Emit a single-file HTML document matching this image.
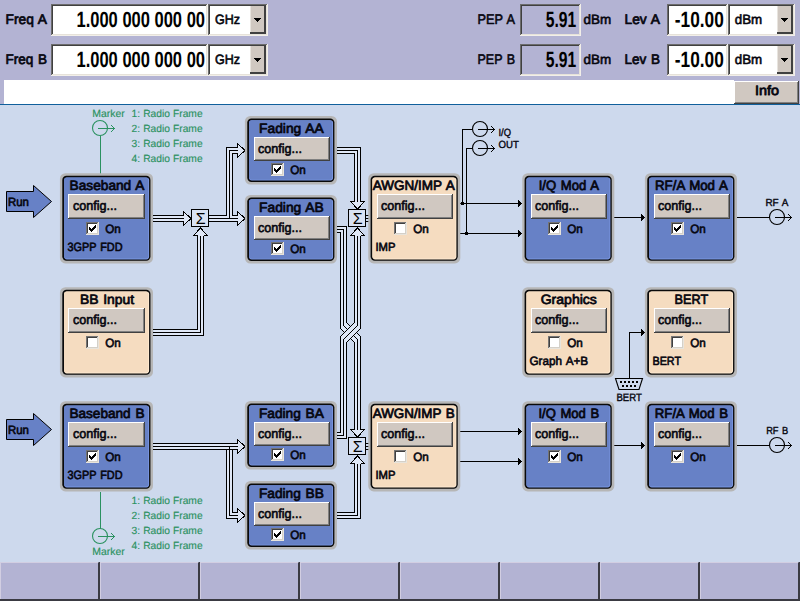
<!DOCTYPE html>
<html lang="en"><head><meta charset="utf-8"><title>Signal Generator Block Diagram</title>
<style>html,body{margin:0;padding:0;background:#b3b3d3;overflow:hidden}svg{display:block}text{font-family:"Liberation Sans", sans-serif;white-space:pre;word-spacing:1px}.d{word-spacing:0}.g{word-spacing:0.2px}</style></head><body>
<svg width="800" height="601" viewBox="0 0 800 601" shape-rendering="crispEdges" text-rendering="geometricPrecision">
<rect x="0" y="0" width="800" height="601" fill="#b3b3d3" />
<rect x="0" y="105" width="800" height="457" fill="#cdd9ed" />
<rect x="0" y="104" width="800" height="1" fill="#10609c" />
<rect x="4" y="80" width="730" height="24" fill="#ffffff" />
<text x="5.5" y="23.7" font-size="14" stroke="#06060f" stroke-width="0.72" stroke-linejoin="round" fill="#06060f" textLength="41.5" lengthAdjust="spacingAndGlyphs" >Freq A</text>
<rect x="51" y="4" width="157" height="32" fill="#f2efe9" />
<rect x="51" y="4" width="156" height="31" fill="#6c6c6c" />
<rect x="52" y="5" width="155" height="30" fill="#e6e2da" />
<rect x="52" y="5" width="154" height="29" fill="#404040" />
<rect x="53" y="6" width="153" height="28" fill="#fff" />
<text x="205" y="26.7" font-size="22" font-weight="bold" fill="#000" text-anchor="end" textLength="128.5" lengthAdjust="spacingAndGlyphs" class="d">1.000 000 000 00</text>
<rect x="208" y="4" width="60" height="32" fill="#f2efe9" />
<rect x="208" y="4" width="59" height="31" fill="#6c6c6c" />
<rect x="209" y="5" width="58" height="30" fill="#e6e2da" />
<rect x="209" y="5" width="57" height="29" fill="#404040" />
<rect x="210" y="6" width="56" height="28" fill="#fff" />
<rect x="250" y="6" width="16" height="28" fill="#404040" />
<rect x="250" y="6" width="14" height="26" fill="#e8e4de" />
<rect x="251" y="6" width="13" height="26" fill="#d0c8c1" />
<rect x="254" y="18" width="7" height="1" fill="#000" />
<rect x="255" y="19" width="5" height="1" fill="#000" />
<rect x="256" y="20" width="3" height="1" fill="#000" />
<rect x="257" y="21" width="1" height="1" fill="#000" />
<text x="215" y="23.6" font-size="13.5" stroke="#06060f" stroke-width="0.6" stroke-linejoin="round" fill="#06060f" textLength="25" lengthAdjust="spacingAndGlyphs" >GHz</text>
<text x="477.5" y="23.7" font-size="14" stroke="#06060f" stroke-width="0.6" stroke-linejoin="round" fill="#06060f" textLength="37.5" lengthAdjust="spacingAndGlyphs" >PEP A</text>
<rect x="520" y="4" width="61" height="32" fill="#f2efe9" />
<rect x="520" y="4" width="60" height="31" fill="#6c6c6c" />
<rect x="521" y="5" width="59" height="30" fill="#e6e2da" />
<rect x="521" y="5" width="58" height="29" fill="#404040" />
<rect x="522" y="6" width="57" height="28" fill="#b3b3d3" />
<text x="576.3" y="26.7" font-size="22" font-weight="bold" fill="#000" text-anchor="end" textLength="30.5" lengthAdjust="spacingAndGlyphs" >5.91</text>
<text x="583.6" y="23.6" font-size="13.5" stroke="#06060f" stroke-width="0.6" stroke-linejoin="round" fill="#06060f" textLength="27.6" lengthAdjust="spacingAndGlyphs" >dBm</text>
<text x="624.5" y="23.7" font-size="14" stroke="#06060f" stroke-width="0.72" stroke-linejoin="round" fill="#06060f" textLength="35.5" lengthAdjust="spacingAndGlyphs" >Lev A</text>
<rect x="667" y="4" width="61" height="32" fill="#f2efe9" />
<rect x="667" y="4" width="60" height="31" fill="#6c6c6c" />
<rect x="668" y="5" width="59" height="30" fill="#e6e2da" />
<rect x="668" y="5" width="58" height="29" fill="#404040" />
<rect x="669" y="6" width="57" height="28" fill="#fff" />
<text x="723.8" y="26.7" font-size="22" font-weight="bold" fill="#000" text-anchor="end" textLength="49" lengthAdjust="spacingAndGlyphs" >-10.00</text>
<rect x="728" y="4" width="67" height="32" fill="#f2efe9" />
<rect x="728" y="4" width="66" height="31" fill="#6c6c6c" />
<rect x="729" y="5" width="65" height="30" fill="#e6e2da" />
<rect x="729" y="5" width="64" height="29" fill="#404040" />
<rect x="730" y="6" width="63" height="28" fill="#fff" />
<rect x="777" y="6" width="16" height="28" fill="#404040" />
<rect x="777" y="6" width="14" height="26" fill="#e8e4de" />
<rect x="778" y="6" width="13" height="26" fill="#d0c8c1" />
<rect x="781" y="18" width="7" height="1" fill="#000" />
<rect x="782" y="19" width="5" height="1" fill="#000" />
<rect x="783" y="20" width="3" height="1" fill="#000" />
<rect x="784" y="21" width="1" height="1" fill="#000" />
<text x="734.8" y="23.6" font-size="13.5" stroke="#06060f" stroke-width="0.6" stroke-linejoin="round" fill="#06060f" textLength="27.4" lengthAdjust="spacingAndGlyphs" >dBm</text>
<text x="5.5" y="63.7" font-size="14" stroke="#06060f" stroke-width="0.72" stroke-linejoin="round" fill="#06060f" textLength="41.5" lengthAdjust="spacingAndGlyphs" >Freq B</text>
<rect x="51" y="44" width="157" height="32" fill="#f2efe9" />
<rect x="51" y="44" width="156" height="31" fill="#6c6c6c" />
<rect x="52" y="45" width="155" height="30" fill="#e6e2da" />
<rect x="52" y="45" width="154" height="29" fill="#404040" />
<rect x="53" y="46" width="153" height="28" fill="#fff" />
<text x="205" y="66.7" font-size="22" font-weight="bold" fill="#000" text-anchor="end" textLength="128.5" lengthAdjust="spacingAndGlyphs" class="d">1.000 000 000 00</text>
<rect x="208" y="44" width="60" height="32" fill="#f2efe9" />
<rect x="208" y="44" width="59" height="31" fill="#6c6c6c" />
<rect x="209" y="45" width="58" height="30" fill="#e6e2da" />
<rect x="209" y="45" width="57" height="29" fill="#404040" />
<rect x="210" y="46" width="56" height="28" fill="#fff" />
<rect x="250" y="46" width="16" height="28" fill="#404040" />
<rect x="250" y="46" width="14" height="26" fill="#e8e4de" />
<rect x="251" y="46" width="13" height="26" fill="#d0c8c1" />
<rect x="254" y="58" width="7" height="1" fill="#000" />
<rect x="255" y="59" width="5" height="1" fill="#000" />
<rect x="256" y="60" width="3" height="1" fill="#000" />
<rect x="257" y="61" width="1" height="1" fill="#000" />
<text x="215" y="63.6" font-size="13.5" stroke="#06060f" stroke-width="0.6" stroke-linejoin="round" fill="#06060f" textLength="25" lengthAdjust="spacingAndGlyphs" >GHz</text>
<text x="477.5" y="63.7" font-size="14" stroke="#06060f" stroke-width="0.6" stroke-linejoin="round" fill="#06060f" textLength="37.5" lengthAdjust="spacingAndGlyphs" >PEP B</text>
<rect x="520" y="44" width="61" height="32" fill="#f2efe9" />
<rect x="520" y="44" width="60" height="31" fill="#6c6c6c" />
<rect x="521" y="45" width="59" height="30" fill="#e6e2da" />
<rect x="521" y="45" width="58" height="29" fill="#404040" />
<rect x="522" y="46" width="57" height="28" fill="#b3b3d3" />
<text x="576.3" y="66.7" font-size="22" font-weight="bold" fill="#000" text-anchor="end" textLength="30.5" lengthAdjust="spacingAndGlyphs" >5.91</text>
<text x="583.6" y="63.6" font-size="13.5" stroke="#06060f" stroke-width="0.6" stroke-linejoin="round" fill="#06060f" textLength="27.6" lengthAdjust="spacingAndGlyphs" >dBm</text>
<text x="624.5" y="63.7" font-size="14" stroke="#06060f" stroke-width="0.72" stroke-linejoin="round" fill="#06060f" textLength="35.5" lengthAdjust="spacingAndGlyphs" >Lev B</text>
<rect x="667" y="44" width="61" height="32" fill="#f2efe9" />
<rect x="667" y="44" width="60" height="31" fill="#6c6c6c" />
<rect x="668" y="45" width="59" height="30" fill="#e6e2da" />
<rect x="668" y="45" width="58" height="29" fill="#404040" />
<rect x="669" y="46" width="57" height="28" fill="#fff" />
<text x="723.8" y="66.7" font-size="22" font-weight="bold" fill="#000" text-anchor="end" textLength="49" lengthAdjust="spacingAndGlyphs" >-10.00</text>
<rect x="728" y="44" width="67" height="32" fill="#f2efe9" />
<rect x="728" y="44" width="66" height="31" fill="#6c6c6c" />
<rect x="729" y="45" width="65" height="30" fill="#e6e2da" />
<rect x="729" y="45" width="64" height="29" fill="#404040" />
<rect x="730" y="46" width="63" height="28" fill="#fff" />
<rect x="777" y="46" width="16" height="28" fill="#404040" />
<rect x="777" y="46" width="14" height="26" fill="#e8e4de" />
<rect x="778" y="46" width="13" height="26" fill="#d0c8c1" />
<rect x="781" y="58" width="7" height="1" fill="#000" />
<rect x="782" y="59" width="5" height="1" fill="#000" />
<rect x="783" y="60" width="3" height="1" fill="#000" />
<rect x="784" y="61" width="1" height="1" fill="#000" />
<text x="734.8" y="63.6" font-size="13.5" stroke="#06060f" stroke-width="0.6" stroke-linejoin="round" fill="#06060f" textLength="27.4" lengthAdjust="spacingAndGlyphs" >dBm</text>
<rect x="734" y="81" width="65" height="23" fill="#404040" />
<rect x="734" y="81" width="64" height="22" fill="#ffffff" />
<rect x="735" y="82" width="63" height="21" fill="#808080" />
<rect x="735" y="82" width="62" height="20" fill="#d0c8c1" />
<text x="766.9" y="95.2" font-size="13.5" stroke="#06060f" stroke-width="0.8" stroke-linejoin="round" fill="#06060f" text-anchor="middle" textLength="24" lengthAdjust="spacingAndGlyphs" >Info</text>
<rect x="0" y="562" width="100" height="39" fill="#3a3a42" />
<rect x="0" y="562" width="98" height="37" fill="#d2cee2" />
<rect x="1" y="563" width="97" height="36" fill="#b3b3d3" />
<rect x="98" y="562" width="1" height="1" fill="#77778a" />
<rect x="100" y="562" width="100" height="39" fill="#3a3a42" />
<rect x="100" y="562" width="98" height="37" fill="#d2cee2" />
<rect x="101" y="563" width="97" height="36" fill="#b3b3d3" />
<rect x="198" y="562" width="1" height="1" fill="#77778a" />
<rect x="200" y="562" width="100" height="39" fill="#3a3a42" />
<rect x="200" y="562" width="98" height="37" fill="#d2cee2" />
<rect x="201" y="563" width="97" height="36" fill="#b3b3d3" />
<rect x="298" y="562" width="1" height="1" fill="#77778a" />
<rect x="300" y="562" width="100" height="39" fill="#3a3a42" />
<rect x="300" y="562" width="98" height="37" fill="#d2cee2" />
<rect x="301" y="563" width="97" height="36" fill="#b3b3d3" />
<rect x="398" y="562" width="1" height="1" fill="#77778a" />
<rect x="400" y="562" width="100" height="39" fill="#3a3a42" />
<rect x="400" y="562" width="98" height="37" fill="#d2cee2" />
<rect x="401" y="563" width="97" height="36" fill="#b3b3d3" />
<rect x="498" y="562" width="1" height="1" fill="#77778a" />
<rect x="500" y="562" width="100" height="39" fill="#3a3a42" />
<rect x="500" y="562" width="98" height="37" fill="#d2cee2" />
<rect x="501" y="563" width="97" height="36" fill="#b3b3d3" />
<rect x="598" y="562" width="1" height="1" fill="#77778a" />
<rect x="600" y="562" width="100" height="39" fill="#3a3a42" />
<rect x="600" y="562" width="98" height="37" fill="#d2cee2" />
<rect x="601" y="563" width="97" height="36" fill="#b3b3d3" />
<rect x="698" y="562" width="1" height="1" fill="#77778a" />
<rect x="700" y="562" width="100" height="39" fill="#3a3a42" />
<rect x="700" y="562" width="98" height="37" fill="#d2cee2" />
<rect x="701" y="563" width="97" height="36" fill="#b3b3d3" />
<rect x="798" y="562" width="1" height="1" fill="#77778a" />
<text x="131.6" y="116.9" font-size="10.4" stroke="#2a9160" stroke-width="0.15" stroke-linejoin="round" fill="#2a9160" textLength="71" lengthAdjust="spacingAndGlyphs" class="g">1: Radio Frame</text>
<text x="131.6" y="504.2" font-size="10.4" stroke="#2a9160" stroke-width="0.15" stroke-linejoin="round" fill="#2a9160" textLength="71" lengthAdjust="spacingAndGlyphs" class="g">1: Radio Frame</text>
<text x="131.6" y="131.9" font-size="10.4" stroke="#2a9160" stroke-width="0.15" stroke-linejoin="round" fill="#2a9160" textLength="71" lengthAdjust="spacingAndGlyphs" class="g">2: Radio Frame</text>
<text x="131.6" y="519.15" font-size="10.4" stroke="#2a9160" stroke-width="0.15" stroke-linejoin="round" fill="#2a9160" textLength="71" lengthAdjust="spacingAndGlyphs" class="g">2: Radio Frame</text>
<text x="131.6" y="146.9" font-size="10.4" stroke="#2a9160" stroke-width="0.15" stroke-linejoin="round" fill="#2a9160" textLength="71" lengthAdjust="spacingAndGlyphs" class="g">3: Radio Frame</text>
<text x="131.6" y="534.1" font-size="10.4" stroke="#2a9160" stroke-width="0.15" stroke-linejoin="round" fill="#2a9160" textLength="71" lengthAdjust="spacingAndGlyphs" class="g">3: Radio Frame</text>
<text x="131.6" y="161.9" font-size="10.4" stroke="#2a9160" stroke-width="0.15" stroke-linejoin="round" fill="#2a9160" textLength="71" lengthAdjust="spacingAndGlyphs" class="g">4: Radio Frame</text>
<text x="131.6" y="549.05" font-size="10.4" stroke="#2a9160" stroke-width="0.15" stroke-linejoin="round" fill="#2a9160" textLength="71" lengthAdjust="spacingAndGlyphs" class="g">4: Radio Frame</text>
<text x="92.3" y="116.9" font-size="10.4" stroke="#2a9160" stroke-width="0.15" stroke-linejoin="round" fill="#2a9160" textLength="32.5" lengthAdjust="spacingAndGlyphs" >Marker</text>
<text x="92.3" y="555" font-size="10.4" stroke="#2a9160" stroke-width="0.15" stroke-linejoin="round" fill="#2a9160" textLength="32.5" lengthAdjust="spacingAndGlyphs" >Marker</text>
<circle cx="100" cy="128" r="7.5" fill="none" stroke="#2a9160" stroke-width="1.1" shape-rendering="auto"/>
<rect x="98" y="128" width="17" height="1" fill="#2a9160" />
<rect x="113" y="127" width="1" height="1" fill="#2a9160" />
<rect x="113" y="129" width="1" height="1" fill="#2a9160" />
<rect x="112" y="126" width="1" height="1" fill="#2a9160" />
<rect x="112" y="130" width="1" height="1" fill="#2a9160" />
<rect x="111" y="125" width="1" height="1" fill="#2a9160" />
<rect x="111" y="131" width="1" height="1" fill="#2a9160" />
<rect x="100" y="136" width="1" height="38" fill="#2a9160" />
<circle cx="100" cy="536" r="7.5" fill="none" stroke="#2a9160" stroke-width="1.1" shape-rendering="auto"/>
<rect x="98" y="536" width="17" height="1" fill="#2a9160" />
<rect x="113" y="535" width="1" height="1" fill="#2a9160" />
<rect x="113" y="537" width="1" height="1" fill="#2a9160" />
<rect x="112" y="534" width="1" height="1" fill="#2a9160" />
<rect x="112" y="538" width="1" height="1" fill="#2a9160" />
<rect x="111" y="533" width="1" height="1" fill="#2a9160" />
<rect x="111" y="539" width="1" height="1" fill="#2a9160" />
<rect x="100" y="492" width="1" height="37" fill="#2a9160" />
<polygon points="6.5,191.5 33.5,191.5 33.5,185.5 51.5,201.5 33.5,217.5 33.5,211.5 6.5,211.5" fill="#6781c6" stroke="#000" stroke-width="1" shape-rendering="auto"/>
<text x="7.9" y="205.7" font-size="12" stroke="#06060f" stroke-width="0.62" stroke-linejoin="round" fill="#06060f" textLength="21" lengthAdjust="spacingAndGlyphs" >Run</text>
<polygon points="6.5,419.5 33.5,419.5 33.5,413.5 51.5,429.5 33.5,445.5 33.5,439.5 6.5,439.5" fill="#6781c6" stroke="#000" stroke-width="1" shape-rendering="auto"/>
<text x="7.9" y="433.7" font-size="12" stroke="#06060f" stroke-width="0.62" stroke-linejoin="round" fill="#06060f" textLength="21" lengthAdjust="spacingAndGlyphs" >Run</text>
<polygon points="153.5,221.5 183.5,221.5 183.5,215.5 153.5,215.5" fill="#dfe7f6" stroke="none"/>
<polyline points="153.5,221.5 183.5,221.5" fill="none" stroke="#000" stroke-width="1" stroke-linecap="square"/>
<polyline points="153.5,218.5 183.5,218.5" fill="none" stroke="#000" stroke-width="1" stroke-linecap="square"/>
<polyline points="153.5,215.5 183.5,215.5" fill="none" stroke="#000" stroke-width="1" stroke-linecap="square"/>
<polygon points="183.5,211.5 191.0,218.5 183.5,225.5" fill="#dfe7f6" stroke="none"/>
<polyline points="183.5,215.5 183.5,211.5 191.0,218.5 183.5,225.5 183.5,221.5" fill="none" stroke="#000" stroke-width="1"/>
<polygon points="153.5,335.5 203.5,335.5 203.5,235.5 197.5,235.5 197.5,329.5 153.5,329.5" fill="#dfe7f6" stroke="none"/>
<polyline points="153.5,335.5 203.5,335.5 203.5,235.5" fill="none" stroke="#000" stroke-width="1" stroke-linecap="square"/>
<polyline points="153.5,332.5 200.5,332.5 200.5,235.5" fill="none" stroke="#000" stroke-width="1" stroke-linecap="square"/>
<polyline points="153.5,329.5 197.5,329.5 197.5,235.5" fill="none" stroke="#000" stroke-width="1" stroke-linecap="square"/>
<polygon points="193.5,235.5 200.5,228.0 207.5,235.5" fill="#dfe7f6" stroke="none"/>
<polyline points="197.5,235.5 193.5,235.5 200.5,228.0 207.5,235.5 203.5,235.5" fill="none" stroke="#000" stroke-width="1"/>
<polygon points="209.5,221.5 237.5,221.5 237.5,215.5 209.5,215.5" fill="#dfe7f6" stroke="none"/>
<polyline points="209.5,221.5 237.5,221.5" fill="none" stroke="#000" stroke-width="1" stroke-linecap="square"/>
<polyline points="209.5,218.5 237.5,218.5" fill="none" stroke="#000" stroke-width="1" stroke-linecap="square"/>
<polyline points="209.5,215.5 237.5,215.5" fill="none" stroke="#000" stroke-width="1" stroke-linecap="square"/>
<polygon points="237.5,211.5 245.0,218.5 237.5,225.5" fill="#dfe7f6" stroke="none"/>
<polyline points="237.5,215.5 237.5,211.5 245.0,218.5 237.5,225.5 237.5,221.5" fill="none" stroke="#000" stroke-width="1"/>
<polygon points="232.5,215.5 232.5,153.5 237.5,153.5 237.5,147.5 226.5,147.5 226.5,215.5" fill="#dfe7f6" stroke="none"/>
<polyline points="232.5,215.5 232.5,153.5 237.5,153.5" fill="none" stroke="#000" stroke-width="1" stroke-linecap="square"/>
<polyline points="229.5,215.5 229.5,150.5 237.5,150.5" fill="none" stroke="#000" stroke-width="1" stroke-linecap="square"/>
<polyline points="226.5,215.5 226.5,147.5 237.5,147.5" fill="none" stroke="#000" stroke-width="1" stroke-linecap="square"/>
<polygon points="237.5,143.5 245.0,150.5 237.5,157.5" fill="#dfe7f6" stroke="none"/>
<polyline points="237.5,147.5 237.5,143.5 245.0,150.5 237.5,157.5 237.5,153.5" fill="none" stroke="#000" stroke-width="1"/>
<rect x="229" y="215" width="1" height="4" fill="#000" />
<polygon points="337.5,153.5 354.5,153.5 354.5,201.5 360.5,201.5 360.5,147.5 337.5,147.5" fill="#dfe7f6" stroke="none"/>
<polyline points="337.5,153.5 354.5,153.5 354.5,201.5" fill="none" stroke="#000" stroke-width="1" stroke-linecap="square"/>
<polyline points="337.5,150.5 357.5,150.5 357.5,201.5" fill="none" stroke="#000" stroke-width="1" stroke-linecap="square"/>
<polyline points="337.5,147.5 360.5,147.5 360.5,201.5" fill="none" stroke="#000" stroke-width="1" stroke-linecap="square"/>
<polygon points="350.5,201.5 357.5,209.0 364.5,201.5" fill="#dfe7f6" stroke="none"/>
<polyline points="354.5,201.5 350.5,201.5 357.5,209.0 364.5,201.5 360.5,201.5" fill="none" stroke="#000" stroke-width="1"/>
<polygon points="337.5,232.5 340.5,232.5 340.5,328.5 354.5,342.5 354.5,429.5 360.5,429.5 360.5,336.5 346.5,322.5 346.5,226.5 337.5,226.5" fill="#dfe7f6" stroke="none"/>
<polyline points="337.5,232.5 340.5,232.5 340.5,328.5 354.5,342.5 354.5,429.5" fill="none" stroke="#000" stroke-width="1" stroke-linecap="square"/>
<polyline points="337.5,229.5 343.5,229.5 343.5,325.5 357.5,339.5 357.5,429.5" fill="none" stroke="#000" stroke-width="1" stroke-linecap="square"/>
<polyline points="337.5,226.5 346.5,226.5 346.5,322.5 360.5,336.5 360.5,429.5" fill="none" stroke="#000" stroke-width="1" stroke-linecap="square"/>
<polygon points="350.5,429.5 357.5,437.0 364.5,429.5" fill="#dfe7f6" stroke="none"/>
<polyline points="354.5,429.5 350.5,429.5 357.5,437.0 364.5,429.5 360.5,429.5" fill="none" stroke="#000" stroke-width="1"/>
<polygon points="337.5,432.5 340.5,432.5 340.5,336.5 354.5,322.5 354.5,235.5 360.5,235.5 360.5,328.5 346.5,342.5 346.5,438.5 337.5,438.5" fill="#dfe7f6" stroke="none"/>
<polyline points="337.5,432.5 340.5,432.5 340.5,336.5 354.5,322.5 354.5,235.5" fill="none" stroke="#000" stroke-width="1" stroke-linecap="square"/>
<polyline points="337.5,435.5 343.5,435.5 343.5,339.5 357.5,325.5 357.5,235.5" fill="none" stroke="#000" stroke-width="1" stroke-linecap="square"/>
<polyline points="337.5,438.5 346.5,438.5 346.5,342.5 360.5,328.5 360.5,235.5" fill="none" stroke="#000" stroke-width="1" stroke-linecap="square"/>
<polygon points="350.5,235.5 357.5,228.0 364.5,235.5" fill="#dfe7f6" stroke="none"/>
<polyline points="354.5,235.5 350.5,235.5 357.5,228.0 364.5,235.5 360.5,235.5" fill="none" stroke="#000" stroke-width="1"/>
<polygon points="337.5,518.5 360.5,518.5 360.5,463.5 354.5,463.5 354.5,512.5 337.5,512.5" fill="#dfe7f6" stroke="none"/>
<polyline points="337.5,518.5 360.5,518.5 360.5,463.5" fill="none" stroke="#000" stroke-width="1" stroke-linecap="square"/>
<polyline points="337.5,515.5 357.5,515.5 357.5,463.5" fill="none" stroke="#000" stroke-width="1" stroke-linecap="square"/>
<polyline points="337.5,512.5 354.5,512.5 354.5,463.5" fill="none" stroke="#000" stroke-width="1" stroke-linecap="square"/>
<polygon points="350.5,463.5 357.5,456.0 364.5,463.5" fill="#dfe7f6" stroke="none"/>
<polyline points="354.5,463.5 350.5,463.5 357.5,456.0 364.5,463.5 360.5,463.5" fill="none" stroke="#000" stroke-width="1"/>
<polygon points="153.5,449.5 237.5,449.5 237.5,443.5 153.5,443.5" fill="#dfe7f6" stroke="none"/>
<polyline points="153.5,449.5 237.5,449.5" fill="none" stroke="#000" stroke-width="1" stroke-linecap="square"/>
<polyline points="153.5,446.5 237.5,446.5" fill="none" stroke="#000" stroke-width="1" stroke-linecap="square"/>
<polyline points="153.5,443.5 237.5,443.5" fill="none" stroke="#000" stroke-width="1" stroke-linecap="square"/>
<polygon points="237.5,439.5 245.0,446.5 237.5,453.5" fill="#dfe7f6" stroke="none"/>
<polyline points="237.5,443.5 237.5,439.5 245.0,446.5 237.5,453.5 237.5,449.5" fill="none" stroke="#000" stroke-width="1"/>
<polygon points="226.5,449.5 226.5,518.5 237.5,518.5 237.5,512.5 232.5,512.5 232.5,449.5" fill="#dfe7f6" stroke="none"/>
<polyline points="226.5,449.5 226.5,518.5 237.5,518.5" fill="none" stroke="#000" stroke-width="1" stroke-linecap="square"/>
<polyline points="229.5,449.5 229.5,515.5 237.5,515.5" fill="none" stroke="#000" stroke-width="1" stroke-linecap="square"/>
<polyline points="232.5,449.5 232.5,512.5 237.5,512.5" fill="none" stroke="#000" stroke-width="1" stroke-linecap="square"/>
<polygon points="237.5,508.5 245.0,515.5 237.5,522.5" fill="#dfe7f6" stroke="none"/>
<polyline points="237.5,512.5 237.5,508.5 245.0,515.5 237.5,522.5 237.5,518.5" fill="none" stroke="#000" stroke-width="1"/>
<rect x="229" y="446" width="1" height="4" fill="#000" />
<rect x="366" y="215" width="4" height="1" fill="#000" />
<rect x="366" y="218" width="4" height="1" fill="#000" />
<rect x="366" y="221" width="4" height="1" fill="#000" />
<rect x="366" y="443" width="4" height="1" fill="#000" />
<rect x="366" y="446" width="4" height="1" fill="#000" />
<rect x="366" y="449" width="4" height="1" fill="#000" />
<rect x="191" y="209" width="18" height="18" fill="#000" />
<rect x="192" y="210" width="16" height="16" fill="#d9e2f3" />
<text x="200.6" y="223.6" font-size="16" fill="#000" text-anchor="middle" >Σ</text>
<rect x="348" y="209" width="18" height="18" fill="#000" />
<rect x="349" y="210" width="16" height="16" fill="#d9e2f3" />
<text x="357.6" y="223.6" font-size="16" fill="#000" text-anchor="middle" >Σ</text>
<rect x="348" y="437" width="18" height="18" fill="#000" />
<rect x="349" y="438" width="16" height="16" fill="#d9e2f3" />
<text x="357.6" y="451.6" font-size="16" fill="#000" text-anchor="middle" >Σ</text>
<rect x="460" y="203" width="62" height="1" fill="#000" />
<rect x="518" y="200" width="1" height="7" fill="#000" />
<rect x="519" y="201" width="1" height="5" fill="#000" />
<rect x="520" y="202" width="1" height="3" fill="#000" />
<rect x="521" y="203" width="1" height="1" fill="#000" />
<rect x="460" y="233" width="62" height="1" fill="#000" />
<rect x="518" y="230" width="1" height="7" fill="#000" />
<rect x="519" y="231" width="1" height="5" fill="#000" />
<rect x="520" y="232" width="1" height="3" fill="#000" />
<rect x="521" y="233" width="1" height="1" fill="#000" />
<rect x="614" y="217" width="31" height="1" fill="#000" />
<rect x="641" y="214" width="1" height="7" fill="#000" />
<rect x="642" y="215" width="1" height="5" fill="#000" />
<rect x="643" y="216" width="1" height="3" fill="#000" />
<rect x="644" y="217" width="1" height="1" fill="#000" />
<rect x="737" y="217" width="33" height="1" fill="#000" />
<circle cx="777" cy="217" r="7.5" fill="none" stroke="#000" stroke-width="1.1" shape-rendering="auto"/>
<rect x="775" y="217" width="17" height="1" fill="#000" />
<rect x="790" y="216" width="1" height="1" fill="#000" />
<rect x="790" y="218" width="1" height="1" fill="#000" />
<rect x="789" y="215" width="1" height="1" fill="#000" />
<rect x="789" y="219" width="1" height="1" fill="#000" />
<rect x="788" y="214" width="1" height="1" fill="#000" />
<rect x="788" y="220" width="1" height="1" fill="#000" />
<rect x="460" y="431" width="62" height="1" fill="#000" />
<rect x="518" y="428" width="1" height="7" fill="#000" />
<rect x="519" y="429" width="1" height="5" fill="#000" />
<rect x="520" y="430" width="1" height="3" fill="#000" />
<rect x="521" y="431" width="1" height="1" fill="#000" />
<rect x="460" y="461" width="62" height="1" fill="#000" />
<rect x="518" y="458" width="1" height="7" fill="#000" />
<rect x="519" y="459" width="1" height="5" fill="#000" />
<rect x="520" y="460" width="1" height="3" fill="#000" />
<rect x="521" y="461" width="1" height="1" fill="#000" />
<rect x="614" y="445" width="31" height="1" fill="#000" />
<rect x="641" y="442" width="1" height="7" fill="#000" />
<rect x="642" y="443" width="1" height="5" fill="#000" />
<rect x="643" y="444" width="1" height="3" fill="#000" />
<rect x="644" y="445" width="1" height="1" fill="#000" />
<rect x="737" y="445" width="33" height="1" fill="#000" />
<circle cx="777" cy="445" r="7.5" fill="none" stroke="#000" stroke-width="1.1" shape-rendering="auto"/>
<rect x="775" y="445" width="17" height="1" fill="#000" />
<rect x="790" y="444" width="1" height="1" fill="#000" />
<rect x="790" y="446" width="1" height="1" fill="#000" />
<rect x="789" y="443" width="1" height="1" fill="#000" />
<rect x="789" y="447" width="1" height="1" fill="#000" />
<rect x="788" y="442" width="1" height="1" fill="#000" />
<rect x="788" y="448" width="1" height="1" fill="#000" />
<text x="765.4" y="205.7" font-size="10.3" stroke="#06060f" stroke-width="0.4" stroke-linejoin="round" fill="#06060f" textLength="23" lengthAdjust="spacingAndGlyphs" >RF A</text>
<text x="766.2" y="433.7" font-size="10.3" stroke="#06060f" stroke-width="0.4" stroke-linejoin="round" fill="#06060f" textLength="22" lengthAdjust="spacingAndGlyphs" >RF B</text>
<rect x="462" y="129" width="1" height="75" fill="#000" />
<rect x="462" y="129" width="10" height="1" fill="#000" />
<rect x="466" y="148" width="1" height="86" fill="#000" />
<rect x="466" y="148" width="6" height="1" fill="#000" />
<rect x="461" y="202" width="3" height="3" fill="#000" />
<rect x="465" y="232" width="3" height="3" fill="#000" />
<circle cx="480" cy="129" r="7.5" fill="none" stroke="#000" stroke-width="1.1" shape-rendering="auto"/>
<rect x="478" y="129" width="17" height="1" fill="#000" />
<rect x="493" y="128" width="1" height="1" fill="#000" />
<rect x="493" y="130" width="1" height="1" fill="#000" />
<rect x="492" y="127" width="1" height="1" fill="#000" />
<rect x="492" y="131" width="1" height="1" fill="#000" />
<rect x="491" y="126" width="1" height="1" fill="#000" />
<rect x="491" y="132" width="1" height="1" fill="#000" />
<circle cx="480" cy="148" r="7.5" fill="none" stroke="#000" stroke-width="1.1" shape-rendering="auto"/>
<rect x="478" y="148" width="17" height="1" fill="#000" />
<rect x="493" y="147" width="1" height="1" fill="#000" />
<rect x="493" y="149" width="1" height="1" fill="#000" />
<rect x="492" y="146" width="1" height="1" fill="#000" />
<rect x="492" y="150" width="1" height="1" fill="#000" />
<rect x="491" y="145" width="1" height="1" fill="#000" />
<rect x="491" y="151" width="1" height="1" fill="#000" />
<text x="498.5" y="136" font-size="10.3" stroke="#06060f" stroke-width="0.4" stroke-linejoin="round" fill="#06060f" textLength="12.5" lengthAdjust="spacingAndGlyphs" >I/Q</text>
<text x="498.5" y="148" font-size="10.3" stroke="#06060f" stroke-width="0.4" stroke-linejoin="round" fill="#06060f" textLength="20.3" lengthAdjust="spacingAndGlyphs" >OUT</text>
<rect x="629" y="332" width="1" height="47" fill="#000" />
<rect x="629" y="332" width="16" height="1" fill="#000" />
<rect x="641" y="329" width="1" height="7" fill="#000" />
<rect x="642" y="330" width="1" height="5" fill="#000" />
<rect x="643" y="331" width="1" height="3" fill="#000" />
<rect x="644" y="332" width="1" height="1" fill="#000" />
<polygon points="615.5,378.5 642.5,378.5 639,389.5 619,389.5" fill="#cdd9ed" stroke="#000" stroke-width="1.1" shape-rendering="auto"/>
<rect x="620" y="381" width="2" height="2" fill="#000" />
<rect x="624" y="381" width="2" height="2" fill="#000" />
<rect x="628" y="381" width="2" height="2" fill="#000" />
<rect x="632" y="381" width="2" height="2" fill="#000" />
<rect x="636" y="381" width="2" height="2" fill="#000" />
<rect x="622" y="385" width="2" height="2" fill="#000" />
<rect x="626" y="385" width="2" height="2" fill="#000" />
<rect x="630" y="385" width="2" height="2" fill="#000" />
<rect x="634" y="385" width="2" height="2" fill="#000" />
<text x="616.5" y="400.9" font-size="10.7" stroke="#06060f" stroke-width="0.4" stroke-linejoin="round" fill="#06060f" textLength="25.3" lengthAdjust="spacingAndGlyphs" >BERT</text>
<rect x="59.95" y="173.20" width="93.05" height="90.25" rx="5.5" ry="5.5" fill="#b6b6b6" shape-rendering="auto"/>
<rect x="62.30" y="175.70" width="88.15" height="85.05" rx="4.2" ry="4.2" fill="#0a0a0a" shape-rendering="auto"/>
<rect x="64.10" y="177.45" width="85.00" height="81.95" rx="2.8" ry="2.8" fill="#7b98e4" shape-rendering="auto"/>
<rect x="64.10" y="177.45" width="84.15" height="81.10" rx="2.6" ry="2.6" fill="#6781c6" shape-rendering="auto"/>
<text x="107.0" y="189.9" font-size="13.5" stroke="#06060f" stroke-width="0.72" stroke-linejoin="round" fill="#06060f" text-anchor="middle" textLength="74.8" lengthAdjust="spacingAndGlyphs" >Baseband A</text>
<rect x="68" y="194" width="77" height="25" fill="#404040" />
<rect x="68" y="194" width="76" height="24" fill="#ffffff" />
<rect x="69" y="195" width="75" height="23" fill="#808080" />
<rect x="69" y="195" width="74" height="22" fill="#d0c8c1" />
<text x="72.9" y="210.2" font-size="13" stroke="#06060f" stroke-width="0.62" stroke-linejoin="round" fill="#06060f" textLength="44" lengthAdjust="spacingAndGlyphs" >config...</text>
<rect x="86" y="222" width="13" height="13" fill="#e8e4dc" />
<rect x="86" y="222" width="12" height="12" fill="#747474" />
<rect x="87" y="223" width="11" height="11" fill="#d4d0c8" />
<rect x="87" y="223" width="10" height="10" fill="#404040" />
<rect x="88" y="224" width="9" height="9" fill="#ffffff" />
<rect x="89" y="227" width="1" height="3" fill="#000" />
<rect x="90" y="228" width="1" height="3" fill="#000" />
<rect x="91" y="229" width="1" height="3" fill="#000" />
<rect x="92" y="228" width="1" height="3" fill="#000" />
<rect x="93" y="227" width="1" height="3" fill="#000" />
<rect x="94" y="226" width="1" height="3" fill="#000" />
<rect x="95" y="225" width="1" height="3" fill="#000" />
<text x="105.2" y="232.6" font-size="12" stroke="#06060f" stroke-width="0.62" stroke-linejoin="round" fill="#06060f" textLength="15.6" lengthAdjust="spacingAndGlyphs" >On</text>
<text x="67.5" y="251.4" font-size="12" stroke="#06060f" stroke-width="0.62" stroke-linejoin="round" fill="#06060f" textLength="55" lengthAdjust="spacingAndGlyphs" >3GPP FDD</text>
<rect x="59.95" y="287.20" width="93.05" height="90.25" rx="5.5" ry="5.5" fill="#b6b6b6" shape-rendering="auto"/>
<rect x="62.30" y="289.70" width="88.15" height="85.05" rx="4.2" ry="4.2" fill="#0a0a0a" shape-rendering="auto"/>
<rect x="64.10" y="291.45" width="85.00" height="81.95" rx="2.8" ry="2.8" fill="#ffebd2" shape-rendering="auto"/>
<rect x="64.10" y="291.45" width="84.15" height="81.10" rx="2.6" ry="2.6" fill="#f5dcc0" shape-rendering="auto"/>
<text x="107.0" y="303.9" font-size="13.5" stroke="#06060f" stroke-width="0.72" stroke-linejoin="round" fill="#06060f" text-anchor="middle" textLength="54.2" lengthAdjust="spacingAndGlyphs" >BB Input</text>
<rect x="68" y="308" width="77" height="25" fill="#404040" />
<rect x="68" y="308" width="76" height="24" fill="#ffffff" />
<rect x="69" y="309" width="75" height="23" fill="#808080" />
<rect x="69" y="309" width="74" height="22" fill="#d0c8c1" />
<text x="72.9" y="324.2" font-size="13" stroke="#06060f" stroke-width="0.62" stroke-linejoin="round" fill="#06060f" textLength="44" lengthAdjust="spacingAndGlyphs" >config...</text>
<rect x="86" y="336" width="13" height="13" fill="#e8e4dc" />
<rect x="86" y="336" width="12" height="12" fill="#747474" />
<rect x="87" y="337" width="11" height="11" fill="#d4d0c8" />
<rect x="87" y="337" width="10" height="10" fill="#404040" />
<rect x="88" y="338" width="9" height="9" fill="#ffffff" />
<text x="105.2" y="346.6" font-size="12" stroke="#06060f" stroke-width="0.62" stroke-linejoin="round" fill="#06060f" textLength="15.6" lengthAdjust="spacingAndGlyphs" >On</text>
<rect x="59.95" y="401.20" width="93.05" height="90.25" rx="5.5" ry="5.5" fill="#b6b6b6" shape-rendering="auto"/>
<rect x="62.30" y="403.70" width="88.15" height="85.05" rx="4.2" ry="4.2" fill="#0a0a0a" shape-rendering="auto"/>
<rect x="64.10" y="405.45" width="85.00" height="81.95" rx="2.8" ry="2.8" fill="#7b98e4" shape-rendering="auto"/>
<rect x="64.10" y="405.45" width="84.15" height="81.10" rx="2.6" ry="2.6" fill="#6781c6" shape-rendering="auto"/>
<text x="107.0" y="417.9" font-size="13.5" stroke="#06060f" stroke-width="0.72" stroke-linejoin="round" fill="#06060f" text-anchor="middle" textLength="75.1" lengthAdjust="spacingAndGlyphs" >Baseband B</text>
<rect x="68" y="422" width="77" height="25" fill="#404040" />
<rect x="68" y="422" width="76" height="24" fill="#ffffff" />
<rect x="69" y="423" width="75" height="23" fill="#808080" />
<rect x="69" y="423" width="74" height="22" fill="#d0c8c1" />
<text x="72.9" y="438.2" font-size="13" stroke="#06060f" stroke-width="0.62" stroke-linejoin="round" fill="#06060f" textLength="44" lengthAdjust="spacingAndGlyphs" >config...</text>
<rect x="86" y="450" width="13" height="13" fill="#e8e4dc" />
<rect x="86" y="450" width="12" height="12" fill="#747474" />
<rect x="87" y="451" width="11" height="11" fill="#d4d0c8" />
<rect x="87" y="451" width="10" height="10" fill="#404040" />
<rect x="88" y="452" width="9" height="9" fill="#ffffff" />
<rect x="89" y="455" width="1" height="3" fill="#000" />
<rect x="90" y="456" width="1" height="3" fill="#000" />
<rect x="91" y="457" width="1" height="3" fill="#000" />
<rect x="92" y="456" width="1" height="3" fill="#000" />
<rect x="93" y="455" width="1" height="3" fill="#000" />
<rect x="94" y="454" width="1" height="3" fill="#000" />
<rect x="95" y="453" width="1" height="3" fill="#000" />
<text x="105.2" y="460.6" font-size="12" stroke="#06060f" stroke-width="0.62" stroke-linejoin="round" fill="#06060f" textLength="15.6" lengthAdjust="spacingAndGlyphs" >On</text>
<text x="67.5" y="479.4" font-size="12" stroke="#06060f" stroke-width="0.62" stroke-linejoin="round" fill="#06060f" textLength="55" lengthAdjust="spacingAndGlyphs" >3GPP FDD</text>
<rect x="244.90" y="115.90" width="92.05" height="68.70" rx="5.5" ry="5.5" fill="#b6b6b6" shape-rendering="auto"/>
<rect x="247.25" y="118.40" width="87.15" height="63.50" rx="4.2" ry="4.2" fill="#0a0a0a" shape-rendering="auto"/>
<rect x="249.05" y="120.15" width="84.00" height="60.40" rx="2.8" ry="2.8" fill="#7b98e4" shape-rendering="auto"/>
<rect x="249.05" y="120.15" width="83.15" height="59.55" rx="2.6" ry="2.6" fill="#6781c6" shape-rendering="auto"/>
<text x="291.4" y="132.5" font-size="13.5" stroke="#06060f" stroke-width="0.72" stroke-linejoin="round" fill="#06060f" text-anchor="middle" textLength="64.7" lengthAdjust="spacingAndGlyphs" >Fading AA</text>
<rect x="254" y="137" width="76" height="24" fill="#404040" />
<rect x="254" y="137" width="75" height="23" fill="#ffffff" />
<rect x="255" y="138" width="74" height="22" fill="#808080" />
<rect x="255" y="138" width="73" height="21" fill="#d0c8c1" />
<text x="257.9" y="153.2" font-size="13" stroke="#06060f" stroke-width="0.62" stroke-linejoin="round" fill="#06060f" textLength="44" lengthAdjust="spacingAndGlyphs" >config...</text>
<rect x="271" y="163" width="13" height="13" fill="#e8e4dc" />
<rect x="271" y="163" width="12" height="12" fill="#747474" />
<rect x="272" y="164" width="11" height="11" fill="#d4d0c8" />
<rect x="272" y="164" width="10" height="10" fill="#404040" />
<rect x="273" y="165" width="9" height="9" fill="#ffffff" />
<rect x="274" y="168" width="1" height="3" fill="#000" />
<rect x="275" y="169" width="1" height="3" fill="#000" />
<rect x="276" y="170" width="1" height="3" fill="#000" />
<rect x="277" y="169" width="1" height="3" fill="#000" />
<rect x="278" y="168" width="1" height="3" fill="#000" />
<rect x="279" y="167" width="1" height="3" fill="#000" />
<rect x="280" y="166" width="1" height="3" fill="#000" />
<text x="290.2" y="173.6" font-size="12" stroke="#06060f" stroke-width="0.62" stroke-linejoin="round" fill="#06060f" textLength="15.6" lengthAdjust="spacingAndGlyphs" >On</text>
<rect x="244.90" y="194.90" width="92.05" height="68.70" rx="5.5" ry="5.5" fill="#b6b6b6" shape-rendering="auto"/>
<rect x="247.25" y="197.40" width="87.15" height="63.50" rx="4.2" ry="4.2" fill="#0a0a0a" shape-rendering="auto"/>
<rect x="249.05" y="199.15" width="84.00" height="60.40" rx="2.8" ry="2.8" fill="#7b98e4" shape-rendering="auto"/>
<rect x="249.05" y="199.15" width="83.15" height="59.55" rx="2.6" ry="2.6" fill="#6781c6" shape-rendering="auto"/>
<text x="291.4" y="211.5" font-size="13.5" stroke="#06060f" stroke-width="0.72" stroke-linejoin="round" fill="#06060f" text-anchor="middle" textLength="64.7" lengthAdjust="spacingAndGlyphs" >Fading AB</text>
<rect x="254" y="216" width="76" height="24" fill="#404040" />
<rect x="254" y="216" width="75" height="23" fill="#ffffff" />
<rect x="255" y="217" width="74" height="22" fill="#808080" />
<rect x="255" y="217" width="73" height="21" fill="#d0c8c1" />
<text x="257.9" y="232.2" font-size="13" stroke="#06060f" stroke-width="0.62" stroke-linejoin="round" fill="#06060f" textLength="44" lengthAdjust="spacingAndGlyphs" >config...</text>
<rect x="271" y="242" width="13" height="13" fill="#e8e4dc" />
<rect x="271" y="242" width="12" height="12" fill="#747474" />
<rect x="272" y="243" width="11" height="11" fill="#d4d0c8" />
<rect x="272" y="243" width="10" height="10" fill="#404040" />
<rect x="273" y="244" width="9" height="9" fill="#ffffff" />
<rect x="274" y="247" width="1" height="3" fill="#000" />
<rect x="275" y="248" width="1" height="3" fill="#000" />
<rect x="276" y="249" width="1" height="3" fill="#000" />
<rect x="277" y="248" width="1" height="3" fill="#000" />
<rect x="278" y="247" width="1" height="3" fill="#000" />
<rect x="279" y="246" width="1" height="3" fill="#000" />
<rect x="280" y="245" width="1" height="3" fill="#000" />
<text x="290.2" y="252.6" font-size="12" stroke="#06060f" stroke-width="0.62" stroke-linejoin="round" fill="#06060f" textLength="15.6" lengthAdjust="spacingAndGlyphs" >On</text>
<rect x="244.90" y="400.90" width="92.05" height="68.70" rx="5.5" ry="5.5" fill="#b6b6b6" shape-rendering="auto"/>
<rect x="247.25" y="403.40" width="87.15" height="63.50" rx="4.2" ry="4.2" fill="#0a0a0a" shape-rendering="auto"/>
<rect x="249.05" y="405.15" width="84.00" height="60.40" rx="2.8" ry="2.8" fill="#7b98e4" shape-rendering="auto"/>
<rect x="249.05" y="405.15" width="83.15" height="59.55" rx="2.6" ry="2.6" fill="#6781c6" shape-rendering="auto"/>
<text x="291.4" y="417.5" font-size="13.5" stroke="#06060f" stroke-width="0.72" stroke-linejoin="round" fill="#06060f" text-anchor="middle" textLength="65" lengthAdjust="spacingAndGlyphs" >Fading BA</text>
<rect x="254" y="422" width="76" height="24" fill="#404040" />
<rect x="254" y="422" width="75" height="23" fill="#ffffff" />
<rect x="255" y="423" width="74" height="22" fill="#808080" />
<rect x="255" y="423" width="73" height="21" fill="#d0c8c1" />
<text x="257.9" y="438.2" font-size="13" stroke="#06060f" stroke-width="0.62" stroke-linejoin="round" fill="#06060f" textLength="44" lengthAdjust="spacingAndGlyphs" >config...</text>
<rect x="271" y="448" width="13" height="13" fill="#e8e4dc" />
<rect x="271" y="448" width="12" height="12" fill="#747474" />
<rect x="272" y="449" width="11" height="11" fill="#d4d0c8" />
<rect x="272" y="449" width="10" height="10" fill="#404040" />
<rect x="273" y="450" width="9" height="9" fill="#ffffff" />
<rect x="274" y="453" width="1" height="3" fill="#000" />
<rect x="275" y="454" width="1" height="3" fill="#000" />
<rect x="276" y="455" width="1" height="3" fill="#000" />
<rect x="277" y="454" width="1" height="3" fill="#000" />
<rect x="278" y="453" width="1" height="3" fill="#000" />
<rect x="279" y="452" width="1" height="3" fill="#000" />
<rect x="280" y="451" width="1" height="3" fill="#000" />
<text x="290.2" y="458.6" font-size="12" stroke="#06060f" stroke-width="0.62" stroke-linejoin="round" fill="#06060f" textLength="15.6" lengthAdjust="spacingAndGlyphs" >On</text>
<rect x="244.90" y="480.90" width="92.05" height="68.70" rx="5.5" ry="5.5" fill="#b6b6b6" shape-rendering="auto"/>
<rect x="247.25" y="483.40" width="87.15" height="63.50" rx="4.2" ry="4.2" fill="#0a0a0a" shape-rendering="auto"/>
<rect x="249.05" y="485.15" width="84.00" height="60.40" rx="2.8" ry="2.8" fill="#7b98e4" shape-rendering="auto"/>
<rect x="249.05" y="485.15" width="83.15" height="59.55" rx="2.6" ry="2.6" fill="#6781c6" shape-rendering="auto"/>
<text x="291.4" y="497.5" font-size="13.5" stroke="#06060f" stroke-width="0.72" stroke-linejoin="round" fill="#06060f" text-anchor="middle" textLength="65" lengthAdjust="spacingAndGlyphs" >Fading BB</text>
<rect x="254" y="502" width="76" height="24" fill="#404040" />
<rect x="254" y="502" width="75" height="23" fill="#ffffff" />
<rect x="255" y="503" width="74" height="22" fill="#808080" />
<rect x="255" y="503" width="73" height="21" fill="#d0c8c1" />
<text x="257.9" y="518.2" font-size="13" stroke="#06060f" stroke-width="0.62" stroke-linejoin="round" fill="#06060f" textLength="44" lengthAdjust="spacingAndGlyphs" >config...</text>
<rect x="271" y="528" width="13" height="13" fill="#e8e4dc" />
<rect x="271" y="528" width="12" height="12" fill="#747474" />
<rect x="272" y="529" width="11" height="11" fill="#d4d0c8" />
<rect x="272" y="529" width="10" height="10" fill="#404040" />
<rect x="273" y="530" width="9" height="9" fill="#ffffff" />
<rect x="274" y="533" width="1" height="3" fill="#000" />
<rect x="275" y="534" width="1" height="3" fill="#000" />
<rect x="276" y="535" width="1" height="3" fill="#000" />
<rect x="277" y="534" width="1" height="3" fill="#000" />
<rect x="278" y="533" width="1" height="3" fill="#000" />
<rect x="279" y="532" width="1" height="3" fill="#000" />
<rect x="280" y="531" width="1" height="3" fill="#000" />
<text x="290.2" y="538.6" font-size="12" stroke="#06060f" stroke-width="0.62" stroke-linejoin="round" fill="#06060f" textLength="15.6" lengthAdjust="spacingAndGlyphs" >On</text>
<rect x="368.25" y="173.20" width="92.05" height="90.25" rx="5.5" ry="5.5" fill="#b6b6b6" shape-rendering="auto"/>
<rect x="370.60" y="175.70" width="87.15" height="85.05" rx="4.2" ry="4.2" fill="#0a0a0a" shape-rendering="auto"/>
<rect x="372.40" y="177.45" width="84.00" height="81.95" rx="2.8" ry="2.8" fill="#ffebd2" shape-rendering="auto"/>
<rect x="372.40" y="177.45" width="83.15" height="81.10" rx="2.6" ry="2.6" fill="#f5dcc0" shape-rendering="auto"/>
<text x="413.8" y="189.9" font-size="13.5" stroke="#06060f" stroke-width="0.72" stroke-linejoin="round" fill="#06060f" text-anchor="middle" textLength="82" lengthAdjust="spacingAndGlyphs" >AWGN/IMP A</text>
<rect x="377" y="194" width="76" height="25" fill="#404040" />
<rect x="377" y="194" width="75" height="24" fill="#ffffff" />
<rect x="378" y="195" width="74" height="23" fill="#808080" />
<rect x="378" y="195" width="73" height="22" fill="#d0c8c1" />
<text x="380.9" y="210.2" font-size="13" stroke="#06060f" stroke-width="0.62" stroke-linejoin="round" fill="#06060f" textLength="44" lengthAdjust="spacingAndGlyphs" >config...</text>
<rect x="394" y="222" width="13" height="13" fill="#e8e4dc" />
<rect x="394" y="222" width="12" height="12" fill="#747474" />
<rect x="395" y="223" width="11" height="11" fill="#d4d0c8" />
<rect x="395" y="223" width="10" height="10" fill="#404040" />
<rect x="396" y="224" width="9" height="9" fill="#ffffff" />
<text x="413.2" y="232.6" font-size="12" stroke="#06060f" stroke-width="0.62" stroke-linejoin="round" fill="#06060f" textLength="15.6" lengthAdjust="spacingAndGlyphs" >On</text>
<text x="375.5" y="251.4" font-size="12" stroke="#06060f" stroke-width="0.62" stroke-linejoin="round" fill="#06060f" textLength="20" lengthAdjust="spacingAndGlyphs" >IMP</text>
<rect x="368.25" y="401.20" width="92.05" height="90.25" rx="5.5" ry="5.5" fill="#b6b6b6" shape-rendering="auto"/>
<rect x="370.60" y="403.70" width="87.15" height="85.05" rx="4.2" ry="4.2" fill="#0a0a0a" shape-rendering="auto"/>
<rect x="372.40" y="405.45" width="84.00" height="81.95" rx="2.8" ry="2.8" fill="#ffebd2" shape-rendering="auto"/>
<rect x="372.40" y="405.45" width="83.15" height="81.10" rx="2.6" ry="2.6" fill="#f5dcc0" shape-rendering="auto"/>
<text x="413.8" y="417.9" font-size="13.5" stroke="#06060f" stroke-width="0.72" stroke-linejoin="round" fill="#06060f" text-anchor="middle" textLength="82" lengthAdjust="spacingAndGlyphs" >AWGN/IMP B</text>
<rect x="377" y="422" width="76" height="25" fill="#404040" />
<rect x="377" y="422" width="75" height="24" fill="#ffffff" />
<rect x="378" y="423" width="74" height="23" fill="#808080" />
<rect x="378" y="423" width="73" height="22" fill="#d0c8c1" />
<text x="380.9" y="438.2" font-size="13" stroke="#06060f" stroke-width="0.62" stroke-linejoin="round" fill="#06060f" textLength="44" lengthAdjust="spacingAndGlyphs" >config...</text>
<rect x="394" y="450" width="13" height="13" fill="#e8e4dc" />
<rect x="394" y="450" width="12" height="12" fill="#747474" />
<rect x="395" y="451" width="11" height="11" fill="#d4d0c8" />
<rect x="395" y="451" width="10" height="10" fill="#404040" />
<rect x="396" y="452" width="9" height="9" fill="#ffffff" />
<text x="413.2" y="460.6" font-size="12" stroke="#06060f" stroke-width="0.62" stroke-linejoin="round" fill="#06060f" textLength="15.6" lengthAdjust="spacingAndGlyphs" >On</text>
<text x="375.5" y="479.4" font-size="12" stroke="#06060f" stroke-width="0.62" stroke-linejoin="round" fill="#06060f" textLength="20" lengthAdjust="spacingAndGlyphs" >IMP</text>
<rect x="522.25" y="173.20" width="92.05" height="90.25" rx="5.5" ry="5.5" fill="#b6b6b6" shape-rendering="auto"/>
<rect x="524.60" y="175.70" width="87.15" height="85.05" rx="4.2" ry="4.2" fill="#0a0a0a" shape-rendering="auto"/>
<rect x="526.40" y="177.45" width="84.00" height="81.95" rx="2.8" ry="2.8" fill="#7b98e4" shape-rendering="auto"/>
<rect x="526.40" y="177.45" width="83.15" height="81.10" rx="2.6" ry="2.6" fill="#6781c6" shape-rendering="auto"/>
<text x="568.8" y="189.9" font-size="13.5" stroke="#06060f" stroke-width="0.72" stroke-linejoin="round" fill="#06060f" text-anchor="middle" textLength="60.2" lengthAdjust="spacingAndGlyphs" >I/Q Mod A</text>
<rect x="531" y="194" width="76" height="25" fill="#404040" />
<rect x="531" y="194" width="75" height="24" fill="#ffffff" />
<rect x="532" y="195" width="74" height="23" fill="#808080" />
<rect x="532" y="195" width="73" height="22" fill="#d0c8c1" />
<text x="534.9" y="210.2" font-size="13" stroke="#06060f" stroke-width="0.62" stroke-linejoin="round" fill="#06060f" textLength="44" lengthAdjust="spacingAndGlyphs" >config...</text>
<rect x="548" y="222" width="13" height="13" fill="#e8e4dc" />
<rect x="548" y="222" width="12" height="12" fill="#747474" />
<rect x="549" y="223" width="11" height="11" fill="#d4d0c8" />
<rect x="549" y="223" width="10" height="10" fill="#404040" />
<rect x="550" y="224" width="9" height="9" fill="#ffffff" />
<rect x="551" y="227" width="1" height="3" fill="#000" />
<rect x="552" y="228" width="1" height="3" fill="#000" />
<rect x="553" y="229" width="1" height="3" fill="#000" />
<rect x="554" y="228" width="1" height="3" fill="#000" />
<rect x="555" y="227" width="1" height="3" fill="#000" />
<rect x="556" y="226" width="1" height="3" fill="#000" />
<rect x="557" y="225" width="1" height="3" fill="#000" />
<text x="567.2" y="232.6" font-size="12" stroke="#06060f" stroke-width="0.62" stroke-linejoin="round" fill="#06060f" textLength="15.6" lengthAdjust="spacingAndGlyphs" >On</text>
<rect x="522.25" y="401.20" width="92.05" height="90.25" rx="5.5" ry="5.5" fill="#b6b6b6" shape-rendering="auto"/>
<rect x="524.60" y="403.70" width="87.15" height="85.05" rx="4.2" ry="4.2" fill="#0a0a0a" shape-rendering="auto"/>
<rect x="526.40" y="405.45" width="84.00" height="81.95" rx="2.8" ry="2.8" fill="#7b98e4" shape-rendering="auto"/>
<rect x="526.40" y="405.45" width="83.15" height="81.10" rx="2.6" ry="2.6" fill="#6781c6" shape-rendering="auto"/>
<text x="568.8" y="417.9" font-size="13.5" stroke="#06060f" stroke-width="0.72" stroke-linejoin="round" fill="#06060f" text-anchor="middle" textLength="60.6" lengthAdjust="spacingAndGlyphs" >I/Q Mod B</text>
<rect x="531" y="422" width="76" height="25" fill="#404040" />
<rect x="531" y="422" width="75" height="24" fill="#ffffff" />
<rect x="532" y="423" width="74" height="23" fill="#808080" />
<rect x="532" y="423" width="73" height="22" fill="#d0c8c1" />
<text x="534.9" y="438.2" font-size="13" stroke="#06060f" stroke-width="0.62" stroke-linejoin="round" fill="#06060f" textLength="44" lengthAdjust="spacingAndGlyphs" >config...</text>
<rect x="548" y="450" width="13" height="13" fill="#e8e4dc" />
<rect x="548" y="450" width="12" height="12" fill="#747474" />
<rect x="549" y="451" width="11" height="11" fill="#d4d0c8" />
<rect x="549" y="451" width="10" height="10" fill="#404040" />
<rect x="550" y="452" width="9" height="9" fill="#ffffff" />
<rect x="551" y="455" width="1" height="3" fill="#000" />
<rect x="552" y="456" width="1" height="3" fill="#000" />
<rect x="553" y="457" width="1" height="3" fill="#000" />
<rect x="554" y="456" width="1" height="3" fill="#000" />
<rect x="555" y="455" width="1" height="3" fill="#000" />
<rect x="556" y="454" width="1" height="3" fill="#000" />
<rect x="557" y="453" width="1" height="3" fill="#000" />
<text x="567.2" y="460.6" font-size="12" stroke="#06060f" stroke-width="0.62" stroke-linejoin="round" fill="#06060f" textLength="15.6" lengthAdjust="spacingAndGlyphs" >On</text>
<rect x="644.90" y="173.20" width="92.05" height="90.25" rx="5.5" ry="5.5" fill="#b6b6b6" shape-rendering="auto"/>
<rect x="647.25" y="175.70" width="87.15" height="85.05" rx="4.2" ry="4.2" fill="#0a0a0a" shape-rendering="auto"/>
<rect x="649.05" y="177.45" width="84.00" height="81.95" rx="2.8" ry="2.8" fill="#7b98e4" shape-rendering="auto"/>
<rect x="649.05" y="177.45" width="83.15" height="81.10" rx="2.6" ry="2.6" fill="#6781c6" shape-rendering="auto"/>
<text x="691.4" y="189.9" font-size="13.5" stroke="#06060f" stroke-width="0.72" stroke-linejoin="round" fill="#06060f" text-anchor="middle" textLength="72.8" lengthAdjust="spacingAndGlyphs" >RF/A Mod A</text>
<rect x="654" y="194" width="76" height="25" fill="#404040" />
<rect x="654" y="194" width="75" height="24" fill="#ffffff" />
<rect x="655" y="195" width="74" height="23" fill="#808080" />
<rect x="655" y="195" width="73" height="22" fill="#d0c8c1" />
<text x="657.9" y="210.2" font-size="13" stroke="#06060f" stroke-width="0.62" stroke-linejoin="round" fill="#06060f" textLength="44" lengthAdjust="spacingAndGlyphs" >config...</text>
<rect x="671" y="222" width="13" height="13" fill="#e8e4dc" />
<rect x="671" y="222" width="12" height="12" fill="#747474" />
<rect x="672" y="223" width="11" height="11" fill="#d4d0c8" />
<rect x="672" y="223" width="10" height="10" fill="#404040" />
<rect x="673" y="224" width="9" height="9" fill="#ffffff" />
<rect x="674" y="227" width="1" height="3" fill="#000" />
<rect x="675" y="228" width="1" height="3" fill="#000" />
<rect x="676" y="229" width="1" height="3" fill="#000" />
<rect x="677" y="228" width="1" height="3" fill="#000" />
<rect x="678" y="227" width="1" height="3" fill="#000" />
<rect x="679" y="226" width="1" height="3" fill="#000" />
<rect x="680" y="225" width="1" height="3" fill="#000" />
<text x="690.2" y="232.6" font-size="12" stroke="#06060f" stroke-width="0.62" stroke-linejoin="round" fill="#06060f" textLength="15.6" lengthAdjust="spacingAndGlyphs" >On</text>
<rect x="644.90" y="401.20" width="92.05" height="90.25" rx="5.5" ry="5.5" fill="#b6b6b6" shape-rendering="auto"/>
<rect x="647.25" y="403.70" width="87.15" height="85.05" rx="4.2" ry="4.2" fill="#0a0a0a" shape-rendering="auto"/>
<rect x="649.05" y="405.45" width="84.00" height="81.95" rx="2.8" ry="2.8" fill="#7b98e4" shape-rendering="auto"/>
<rect x="649.05" y="405.45" width="83.15" height="81.10" rx="2.6" ry="2.6" fill="#6781c6" shape-rendering="auto"/>
<text x="691.4" y="417.9" font-size="13.5" stroke="#06060f" stroke-width="0.72" stroke-linejoin="round" fill="#06060f" text-anchor="middle" textLength="73.2" lengthAdjust="spacingAndGlyphs" >RF/A Mod B</text>
<rect x="654" y="422" width="76" height="25" fill="#404040" />
<rect x="654" y="422" width="75" height="24" fill="#ffffff" />
<rect x="655" y="423" width="74" height="23" fill="#808080" />
<rect x="655" y="423" width="73" height="22" fill="#d0c8c1" />
<text x="657.9" y="438.2" font-size="13" stroke="#06060f" stroke-width="0.62" stroke-linejoin="round" fill="#06060f" textLength="44" lengthAdjust="spacingAndGlyphs" >config...</text>
<rect x="671" y="450" width="13" height="13" fill="#e8e4dc" />
<rect x="671" y="450" width="12" height="12" fill="#747474" />
<rect x="672" y="451" width="11" height="11" fill="#d4d0c8" />
<rect x="672" y="451" width="10" height="10" fill="#404040" />
<rect x="673" y="452" width="9" height="9" fill="#ffffff" />
<rect x="674" y="455" width="1" height="3" fill="#000" />
<rect x="675" y="456" width="1" height="3" fill="#000" />
<rect x="676" y="457" width="1" height="3" fill="#000" />
<rect x="677" y="456" width="1" height="3" fill="#000" />
<rect x="678" y="455" width="1" height="3" fill="#000" />
<rect x="679" y="454" width="1" height="3" fill="#000" />
<rect x="680" y="453" width="1" height="3" fill="#000" />
<text x="690.2" y="460.6" font-size="12" stroke="#06060f" stroke-width="0.62" stroke-linejoin="round" fill="#06060f" textLength="15.6" lengthAdjust="spacingAndGlyphs" >On</text>
<rect x="522.25" y="287.20" width="92.05" height="90.25" rx="5.5" ry="5.5" fill="#b6b6b6" shape-rendering="auto"/>
<rect x="524.60" y="289.70" width="87.15" height="85.05" rx="4.2" ry="4.2" fill="#0a0a0a" shape-rendering="auto"/>
<rect x="526.40" y="291.45" width="84.00" height="81.95" rx="2.8" ry="2.8" fill="#ffebd2" shape-rendering="auto"/>
<rect x="526.40" y="291.45" width="83.15" height="81.10" rx="2.6" ry="2.6" fill="#f5dcc0" shape-rendering="auto"/>
<text x="568.8" y="303.9" font-size="13.5" stroke="#06060f" stroke-width="0.72" stroke-linejoin="round" fill="#06060f" text-anchor="middle" textLength="56.2" lengthAdjust="spacingAndGlyphs" >Graphics</text>
<rect x="531" y="308" width="76" height="25" fill="#404040" />
<rect x="531" y="308" width="75" height="24" fill="#ffffff" />
<rect x="532" y="309" width="74" height="23" fill="#808080" />
<rect x="532" y="309" width="73" height="22" fill="#d0c8c1" />
<text x="534.9" y="324.2" font-size="13" stroke="#06060f" stroke-width="0.62" stroke-linejoin="round" fill="#06060f" textLength="44" lengthAdjust="spacingAndGlyphs" >config...</text>
<rect x="548" y="336" width="13" height="13" fill="#e8e4dc" />
<rect x="548" y="336" width="12" height="12" fill="#747474" />
<rect x="549" y="337" width="11" height="11" fill="#d4d0c8" />
<rect x="549" y="337" width="10" height="10" fill="#404040" />
<rect x="550" y="338" width="9" height="9" fill="#ffffff" />
<text x="567.2" y="346.6" font-size="12" stroke="#06060f" stroke-width="0.62" stroke-linejoin="round" fill="#06060f" textLength="15.6" lengthAdjust="spacingAndGlyphs" >On</text>
<text x="529.5" y="365.4" font-size="12" stroke="#06060f" stroke-width="0.62" stroke-linejoin="round" fill="#06060f" textLength="58.6" lengthAdjust="spacingAndGlyphs" >Graph A+B</text>
<rect x="644.90" y="287.20" width="92.05" height="90.25" rx="5.5" ry="5.5" fill="#b6b6b6" shape-rendering="auto"/>
<rect x="647.25" y="289.70" width="87.15" height="85.05" rx="4.2" ry="4.2" fill="#0a0a0a" shape-rendering="auto"/>
<rect x="649.05" y="291.45" width="84.00" height="81.95" rx="2.8" ry="2.8" fill="#ffebd2" shape-rendering="auto"/>
<rect x="649.05" y="291.45" width="83.15" height="81.10" rx="2.6" ry="2.6" fill="#f5dcc0" shape-rendering="auto"/>
<text x="691.4" y="303.9" font-size="13.5" stroke="#06060f" stroke-width="0.72" stroke-linejoin="round" fill="#06060f" text-anchor="middle" textLength="33.6" lengthAdjust="spacingAndGlyphs" >BERT</text>
<rect x="654" y="308" width="76" height="25" fill="#404040" />
<rect x="654" y="308" width="75" height="24" fill="#ffffff" />
<rect x="655" y="309" width="74" height="23" fill="#808080" />
<rect x="655" y="309" width="73" height="22" fill="#d0c8c1" />
<text x="657.9" y="324.2" font-size="13" stroke="#06060f" stroke-width="0.62" stroke-linejoin="round" fill="#06060f" textLength="44" lengthAdjust="spacingAndGlyphs" >config...</text>
<rect x="671" y="336" width="13" height="13" fill="#e8e4dc" />
<rect x="671" y="336" width="12" height="12" fill="#747474" />
<rect x="672" y="337" width="11" height="11" fill="#d4d0c8" />
<rect x="672" y="337" width="10" height="10" fill="#404040" />
<rect x="673" y="338" width="9" height="9" fill="#ffffff" />
<text x="690.2" y="346.6" font-size="12" stroke="#06060f" stroke-width="0.62" stroke-linejoin="round" fill="#06060f" textLength="15.6" lengthAdjust="spacingAndGlyphs" >On</text>
<text x="652.5" y="365.4" font-size="12" stroke="#06060f" stroke-width="0.62" stroke-linejoin="round" fill="#06060f" textLength="28.5" lengthAdjust="spacingAndGlyphs" >BERT</text>
</svg></body></html>
